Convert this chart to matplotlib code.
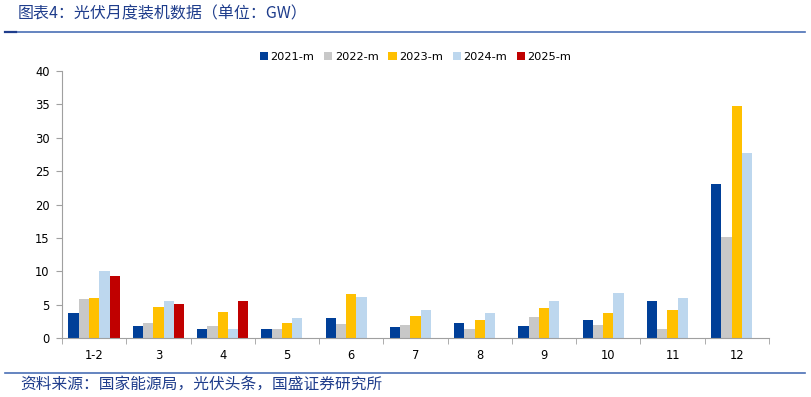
import matplotlib
matplotlib.use('Agg')
import matplotlib.pyplot as plt
import numpy as np

months = ['1-2', '3', '4', '5', '6', '7', '8', '9', '10', '11', '12']
series = ['2021-m', '2022-m', '2023-m', '2024-m', '2025-m']
y2021 = [3.7, 1.8, 1.4, 1.3, 3.05, 1.7, 2.2, 1.85, 2.75, 5.6, 23.0]
y2022 = [5.8, 2.2, 1.8, 1.3, 2.15, 2.0, 1.3, 3.2, 2.0, 1.4, 15.2]
y2023 = [6.0, 4.6, 3.9, 2.2, 6.65, 3.35, 2.65, 4.55, 3.8, 4.15, 34.7]
y2024 = [10.0, 5.6, 1.4, 3.0, 6.2, 4.15, 3.8, 5.6, 6.8, 6.05, 27.7]
y2025 = [9.3, 5.1, 5.6]
colors = ['#003f98', '#c8c8c8', '#ffc000', '#bdd7ee', '#c00000']

plt.rcParams['font.family'] = ['DejaVu Sans', 'Noto Sans CJK SC']
cjk = ['Noto Sans CJK SC', 'DejaVu Sans']
fig = plt.figure(figsize=(8.11, 3.97), dpi=100)
W, H = 811, 397
ax = fig.add_axes([62 / W, 1 - 338 / H, (769 - 62) / W, (338 - 71) / H])

x = np.arange(len(months))
width = 0.16
data = [y2021, y2022, y2023, y2024, y2025]
for k, (name, vals, c) in enumerate(zip(series, data, colors)):
    pos = x[:len(vals)] + (k - 2) * width
    ax.bar(pos, vals, width, color=c, label=name, zorder=2)

ax.set_xlim(-0.5, len(months) - 0.5)
ax.set_ylim(0, 40)
ax.set_yticks(range(0, 41, 5))
ax.set_xticks(x)
ax.set_xticklabels(months)
ax.set_xticks(np.arange(-0.5, len(months), 1), minor=True)
ax.tick_params(axis='x', which='major', length=0, pad=8, labelsize=8.3)
ax.tick_params(axis='x', which='minor', length=4, color='#a0a0a0', direction='out')
ax.tick_params(axis='y', length=4, color='#a0a0a0', labelsize=8.3, pad=5)
for s in ['top', 'right']:
    ax.spines[s].set_visible(False)
for s in ['left', 'bottom']:
    ax.spines[s].set_color('#a0a0a0')

ax.legend(loc='center', bbox_to_anchor=(0.5, 1 + 14 / 267), ncol=5, frameon=False,
          fontsize=8.2, handlelength=0.75, handleheight=0.75, handletextpad=0.2,
          columnspacing=0.85, borderpad=0)

blue = '#4a70b5'
fig.text(18 / W, 1 - 14 / H, '图表4：光伏月度装机数据（单位：GW）', fontsize=11.5,
         color='#1f3d8c', va='center', ha='left', style='italic', family=cjk)
fig.add_artist(plt.Line2D([5 / W, 805 / W], [1 - 32 / H] * 2, color=blue, lw=1.2))
fig.add_artist(plt.Line2D([5 / W, 16 / W], [1 - 32 / H] * 2, color='#1f3d8c', lw=1.6))
fig.add_artist(plt.Line2D([5 / W, 805 / W], [1 - 373 / H] * 2, color=blue, lw=1.2))
fig.text(20 / W, 1 - 384 / H, '资料来源：国家能源局，光伏头条，国盛证券研究所', fontsize=11.3,
         color='#1f3d8c', va='center', ha='left', style='italic', family=cjk)

fig.savefig('out.png', dpi=100)
